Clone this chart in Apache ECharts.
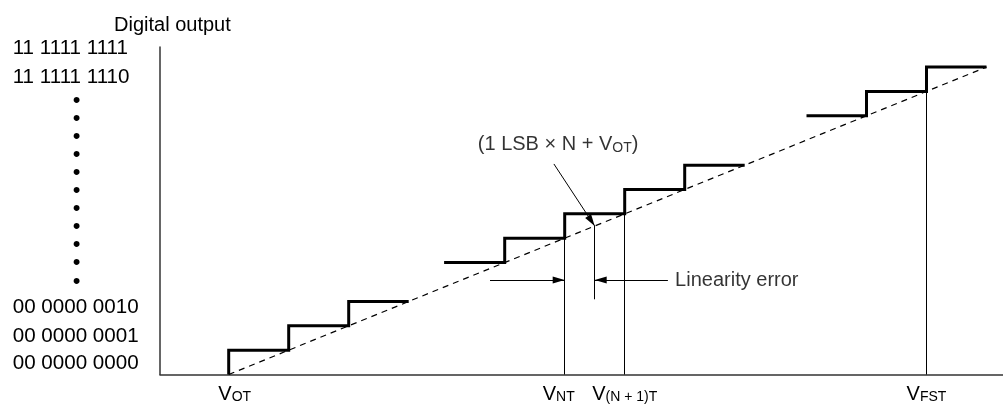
<!DOCTYPE html>
<html>
<head>
<meta charset="utf-8">
<script src="https://cdn.jsdelivr.net/npm/echarts@6/dist/echarts.min.js"></script>
<style>
  html, body { margin: 0; padding: 0; background: #fff; }
  #chart { width: 1003px; height: 406px; }
</style>
</head>
<body>
<div id="chart"></div>
<script>
// ---------- data (x in LSB of input voltage, y in output codes) ----------
const yLabelValues = [13.39, 12.22, 11.25, 10.51, 9.77, 9.03, 8.29, 7.55, 6.79, 6.05, 5.31, 4.57, 3.81, 2.75, 1.55, 0.45];
const yLabelTexts = ['11 1111 1111', '11 1111 1110', '•', '•', '•', '•', '•', '•', '•', '•', '•', '•', '•',
                     '00 0000 0010', '00 0000 0001', '00 0000 0000'];

const xTickValues = [0, 5.6, 6.6, 11.63];
const xTickMain = ['V', 'V', 'V', 'V'];
const xTickSub = ['OT', 'NT', '(N + 1)T', 'FST'];

// staircase groups: start x, start code level, transition points, end x
const stairStartX = [0, 3.59, 9.63];
const stairStartLevel = [0, 4.6, 10.63];
const stairRises = [[0, 1, 2], [4.6, 5.6, 6.6, 7.6], [10.63, 11.63]];
const stairEndX = [3, 8.6, 12.63];

// ideal transfer line (dashed)
const idealLine = [[0, 0], [12.63, 12.63]];

// reference verticals at V_NT, V_(N+1)T, V_FST and the ideal point (1 LSB x N + V_OT)
const refVerticals = [
  [[5.6, 0], [5.6, 5.6]],
  [[6.6, 0], [6.6, 6.6]],
  [[11.63, 0], [11.63, 11.63]],
  [[6.1, 6.1], [6.1, 3.09]]
];
// arrows [from, to]
const arrows = [
  [[4.355, 3.88], [5.6, 3.88]],
  [[7.32, 3.88], [6.1, 3.88]],
  [[5.42, 8.65], [6.1, 6.1]]
];
// annotation anchors
const noteIdeal = [5.49, 9.43];
const noteError = [7.44, 3.88];

// ---------- build ----------
const FONT = 'Liberation Sans, Arial, Helvetica, sans-serif';

function stairPoints(i) {
  let lvl = stairStartLevel[i];
  const pts = [[stairStartX[i], lvl]];
  stairRises[i].forEach(r => {
    pts.push([r, lvl]);
    lvl += 1;
    pts.push([r, lvl]);
  });
  pts.push([stairEndX[i], lvl]);
  return pts;
}

function nearestIdx(arr, v) {
  let best = 0, bd = Infinity;
  arr.forEach((a, i) => { const d = Math.abs(a - v); if (d < bd) { bd = d; best = i; } });
  return best;
}

const stairSeries = stairRises.map((_, i) => ({
  type: 'line',
  data: stairPoints(i),
  symbol: 'none',
  lineStyle: { color: '#000', width: 3, join: 'miter', cap: 'butt' },
  silent: true,
  z: 5
}));

const chart = echarts.init(document.getElementById('chart'), null, { renderer: 'canvas' });

const option = {
  animation: false,
  backgroundColor: '#fff',
  title: {
    text: 'Digital output',
    left: 109,
    top: 10,
    textStyle: { fontFamily: FONT, fontSize: 20, fontWeight: 'normal', color: '#000' }
  },
  grid: { left: 160, right: 0, top: 47, bottom: 31.5, containLabel: false, outerBoundsMode: 'none' },
  xAxis: {
    type: 'value',
    min: -1.145,
    max: 12.905,
    axisLine: { show: true, onZero: false, lineStyle: { color: '#333', width: 1.5 } },
    axisTick: { show: false },
    splitLine: { show: false },
    axisLabel: {
      customValues: xTickValues,
      margin: 10,
      formatter: function (v) {
        const i = nearestIdx(xTickValues, v);
        const styleMain = i === 0 ? 'v0' : (i === 1 ? 'v1' : 'v');
        const styleSub = i === 1 ? 's1' : 's';
        return '{' + styleMain + '|' + xTickMain[i] + '}{' + styleSub + '|' + xTickSub[i] + '}';
      },
      rich: {
        v: { fontFamily: FONT, fontSize: 20, color: '#000', verticalAlign: 'bottom', lineHeight: 20 },
        v0: { fontFamily: FONT, fontSize: 20, color: '#000', verticalAlign: 'bottom', lineHeight: 20, padding: [0, 0, 0, 12] },
        v1: { fontFamily: FONT, fontSize: 20, color: '#000', verticalAlign: 'bottom', lineHeight: 20 },
        s: { fontFamily: FONT, fontSize: 14, color: '#000', verticalAlign: 'bottom', lineHeight: 17 },
        s1: { fontFamily: FONT, fontSize: 14, color: '#000', verticalAlign: 'bottom', lineHeight: 17, padding: [0, 12, 0, 0] }
      }
    }
  },
  yAxis: {
    type: 'value',
    min: 0,
    max: 13.455,
    axisLine: { show: true, onZero: false, lineStyle: { color: '#333', width: 1.5 } },
    axisTick: { show: false },
    splitLine: { show: false },
    axisLabel: {
      customValues: yLabelValues,
      align: 'left',
      margin: 147.3,
      formatter: function (v) {
        const i = nearestIdx(yLabelValues, v);
        const t = yLabelTexts[i];
        return t === '•' ? '{d|•}' : '{t|' + t + '}';
      },
      rich: {
        t: { fontFamily: FONT, fontSize: 20.6, color: '#000' },
        d: { fontFamily: FONT, fontSize: 22, color: '#000', padding: [0, 0, 0, 60] }
      }
    }
  },
  series: [
    {
      type: 'line',
      name: 'ideal',
      data: idealLine,
      symbol: 'none',
      lineStyle: { color: '#000', width: 1.2, type: [6, 5] },
      silent: true,
      z: 3,
      markLine: {
        silent: true,
        symbol: ['none', 'none'],
        label: { show: false },
        emphasis: { disabled: true },
        lineStyle: { color: '#000', width: 1, type: 'solid' },
        data: refVerticals.map(p => [{ coord: p[0] }, { coord: p[1] }])
      }
    },
    ...stairSeries,
    {
      type: 'line',
      name: 'arrows',
      data: [],
      symbol: 'none',
      silent: true,
      markLine: {
        silent: true,
        symbol: ['none', 'triangle'],
        symbolSize: [7, 12],
        symbolOffset: [0, [0, 6]],
        label: { show: false },
        emphasis: { disabled: true },
        lineStyle: { color: '#000', width: 1, type: 'solid' },
        data: arrows.map(p => [{ coord: p[0] }, { coord: p[1] }])
      }
    },
    {
      type: 'scatter',
      name: 'notes',
      symbolSize: 0,
      silent: true,
      data: [
        {
          value: noteIdeal,
          label: {
            show: true,
            position: 'inside',
            formatter: '{a|(1 LSB × N + V}{s|OT}{a|)}',
            rich: {
              a: { fontFamily: FONT, fontSize: 20, color: '#000', verticalAlign: 'bottom', lineHeight: 20 },
              s: { fontFamily: FONT, fontSize: 14, color: '#000', verticalAlign: 'bottom', lineHeight: 17 }
            }
          }
        },
        {
          value: noteError,
          label: {
            show: true,
            position: 'right',
            distance: 0,
            formatter: 'Linearity error',
            fontFamily: FONT,
            fontSize: 20,
            color: '#000'
          }
        }
      ]
    }
  ]
};

chart.setOption(option);
</script>
</body>
</html>
